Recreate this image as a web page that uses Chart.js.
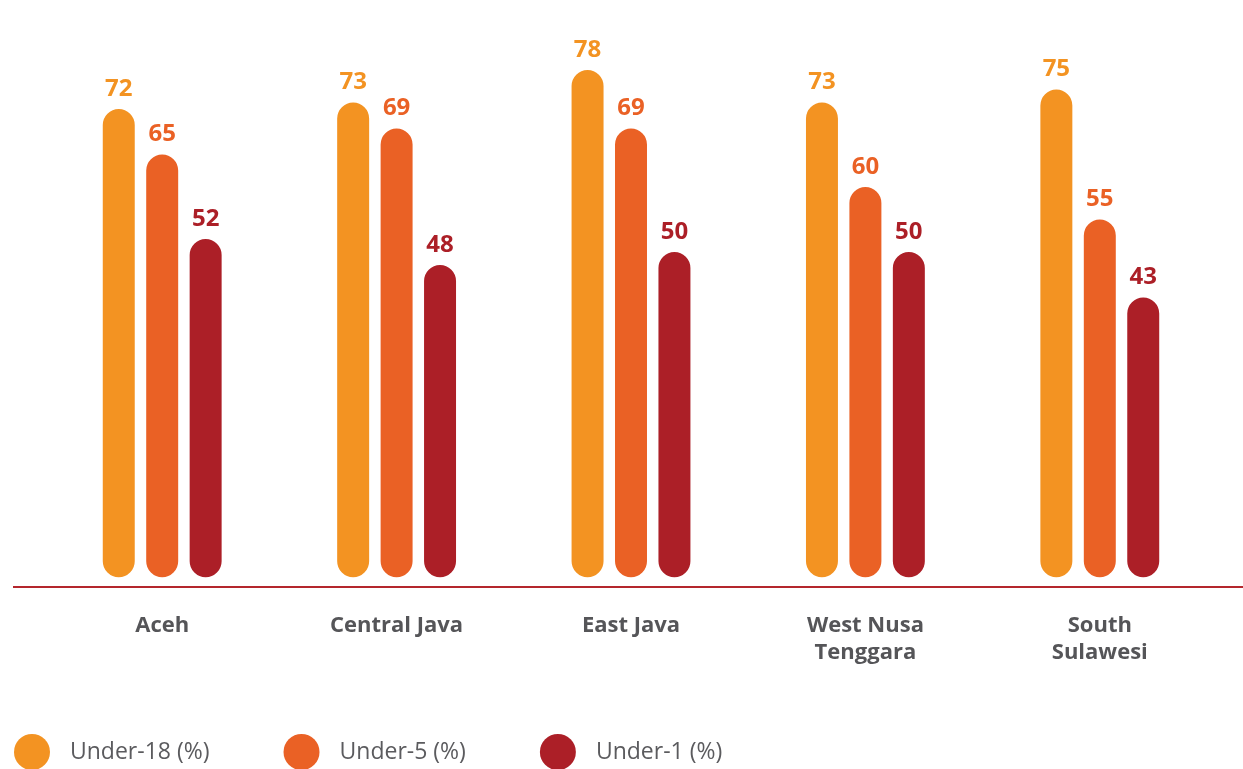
<!DOCTYPE html>
<html>
<head>
<meta charset="utf-8">
<script src="https://cdn.jsdelivr.net/npm/chart.js@4.4.1/dist/chart.umd.min.js"></script>
<style>
    html, body { margin: 0; padding: 0; background: #ffffff; overflow: hidden; }
    #wrap { position: relative; width: 1243px; height: 769px; }
</style>
</head>
<body>
<div id="wrap"><canvas id="regionChart"></canvas></div>
<script>
const provinces = ["Aceh", "Central Java", "East Java", ["West Nusa", "Tenggara"], ["South", "Sulawesi"]];
const under18 = [72, 73, 78, 73, 75];
const under5 = [65, 69, 69, 60, 55];
const under1 = [52, 48, 50, 50, 43];

const seriesNames = ["Under-18 (%)", "Under-5 (%)", "Under-1 (%)"];
const seriesColors = ["#f39322", "#ea6125", "#ac1f27"];

const fontFamily = "'Open Sans', 'Noto Sans', sans-serif";

// value printed above each bar, same colour as the bar
const valueLabels = {
    id: "valueLabels",
    afterDatasetsDraw(chart) {
        const ctx = chart.ctx;
        ctx.save();
        ctx.font = "700 24px " + fontFamily;
        ctx.textAlign = "center";
        ctx.textBaseline = "bottom";
        chart.data.datasets.forEach((ds, i) => {
            chart.getDatasetMeta(i).data.forEach((bar, j) => {
                ctx.fillStyle = ds.backgroundColor;
                ctx.fillText(ds.data[j], bar.x, bar.y - 8);
            });
        });
        ctx.restore();
    }
};

// red baseline running the full width under the bars
const baseLine = {
    id: "baseLine",
    beforeDatasetsDraw(chart) {
        const ctx = chart.ctx;
        const y = chart.chartArea.bottom;
        ctx.save();
        ctx.strokeStyle = "#b4262d";
        ctx.lineWidth = 2;
        ctx.beginPath();
        ctx.moveTo(13, y);
        ctx.lineTo(chart.width, y);
        ctx.stroke();
        ctx.restore();
    }
};

// round-dot legend along the bottom edge
const dotLegend = {
    id: "dotLegend",
    afterDraw(chart) {
        const ctx = chart.ctx;
        const r = 18;
        const cy = 752;
        let x = 14;
        ctx.save();
        ctx.font = "400 23px " + fontFamily;
        ctx.textBaseline = "middle";
        chart.data.datasets.forEach(ds => {
            ctx.fillStyle = ds.backgroundColor;
            ctx.beginPath();
            ctx.arc(x + r, cy, r, 0, Math.PI * 2);
            ctx.fill();
            ctx.fillStyle = "#5b5b5e";
            ctx.fillText(ds.label, x + 2 * r + 20, cy);
            x += 2 * r + 20 + ctx.measureText(ds.label).width + 74;
        });
        ctx.restore();
    }
};

const ctx = document.getElementById("regionChart").getContext("2d");

const data = {
    labels: provinces,
    datasets: [under18, under5, under1].map((values, i) => ({
        label: seriesNames[i],
        data: values,
        base: 0,
        backgroundColor: seriesColors[i],
        borderRadius: 16,
        borderSkipped: false,
        categoryPercentage: 0.556,
        barPercentage: 0.736
    }))
};

const config = {
    type: "bar",
    data: data,
    options: {
        responsive: true,
        maintainAspectRatio: false,
        animation: false,
        layout: {
            padding: { top: 57, left: 45, right: 26, bottom: 82 }
        },
        plugins: {
            legend: { display: false },
            tooltip: { enabled: false }
        },
        scales: {
            x: {
                grid: { display: false, drawTicks: false },
                border: { display: false },
                ticks: {
                    color: "#555558",
                    padding: 25,
                    font: { family: fontFamily, size: 22, weight: "700", lineHeight: 1.23 }
                },
                afterFit(scale) {
                    scale.height = 100;
                }
            },
            y: {
                display: false,
                min: -1.5,
                max: 80
            }
        }
    },
    plugins: [baseLine, valueLabels, dotLegend]
};

new Chart(ctx, config);
</script>
</body>
</html>
